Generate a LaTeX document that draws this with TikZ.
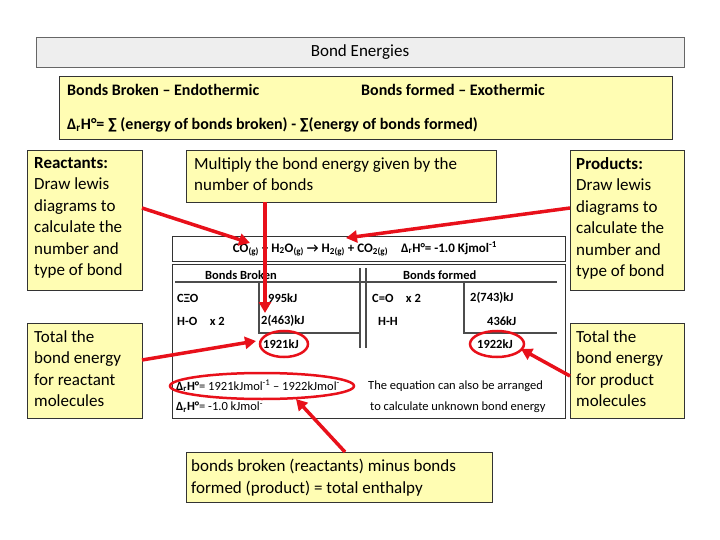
\documentclass[tikz,border=0pt]{standalone}
\usepackage{fontspec}
\setmainfont{Carlito}
\usetikzlibrary{arrows.meta}
\definecolor{ylw}{HTML}{FFFDB3}
\definecolor{gryf}{HTML}{EEEEEE}
\definecolor{rd}{HTML}{E8101A}
\tikzset{
 ybox/.style={draw=black!80,fill=ylw,line width=0.8pt},
 bt/.style={font=\fontsize{17}{21.5}\selectfont,anchor=north west,align=left,inner sep=0pt},
 tt/.style={font=\fontsize{12.5}{14}\selectfont\bfseries,anchor=west,inner sep=0pt},
 nt/.style={font=\fontsize{12.5}{14}\selectfont,anchor=west,inner sep=0pt},
 rarrow/.style={rd,line width=3.5pt,-{Triangle[length=11pt,width=12pt]}},
 rell/.style={rd,line width=2.5pt},
 tl/.style={black!70,line width=1.2pt}
}
\begin{document}
\begin{tikzpicture}[x=1pt,y=-1pt]
\useasboundingbox (0,0) rectangle (720,540);
% title
\draw[fill=gryf,draw=black!60] (36,37) rectangle (684,67);
\node[font=\fontsize{17}{18}\selectfont] (title) at (360,52) {Bond Energies};
% yellow box
\draw[ybox] (59,76) rectangle (672,139);
\node[bt,font=\fontsize{16}{18}\selectfont\bfseries] (bb) at (67,84) {Bonds Broken – Endothermic};
\node[bt,font=\fontsize{16}{18}\selectfont\bfseries] (bf) at (361,84) {Bonds formed – Exothermic};
\node[bt,font=\fontsize{16}{18}\selectfont\bfseries] (eq) at (67,117) {Δ\textsubscript{r}H°= ∑ (energy of bonds broken) - ∑(energy of bonds formed)};
% side boxes
\draw[ybox] (27,150) rectangle (142,290);
\node[bt] (react) at (34,157) {\textbf{Reactants:}\\Draw lewis\\diagrams to\\calculate the\\number and\\type of bond};
\draw[ybox] (27,323) rectangle (142,418);
\node[bt] (totr) at (34,330) {Total the\\bond energy\\for reactant\\molecules};
\draw[ybox] (570,150) rectangle (684,290);
\node[bt] (prod) at (576,157) {\textbf{Products:}\\Draw lewis\\diagrams to\\calculate the\\number and\\type of bond};
\draw[ybox] (570,323) rectangle (684,418);
\node[bt] (totp) at (576,330) {Total the\\bond energy\\for product\\molecules};
\draw[ybox] (186,150) rectangle (496,202);
\node[bt] (mult) at (194,157) {Multiply the bond energy given by the\\number of bonds};
\draw[ybox] (186,452) rectangle (492,502);
\node[bt] (bot) at (191,459) {bonds broken (reactants) minus bonds\\formed (product) = total enthalpy};
% central table
\draw[black!80,line width=1pt] (172,236) rectangle (565,261);
\node[font=\fontsize{13}{14}\selectfont\bfseries] (reac) at (365,249) {CO\textsubscript{(g)} + H\textsubscript{2}O\textsubscript{(g)} → H\textsubscript{2(g)} + CO\textsubscript{2(g)}\quad Δ\textsubscript{r}H°= -1.0 Kjmol\textsuperscript{-1}};
\draw[black!80,line width=1pt] (172,264) rectangle (565,418);
\node[tt] (h1) at (205,275) {Bonds Broken};
\node[tt] (h2) at (403,275) {Bonds formed};
\draw[tl] (175,282) -- (557,282);
\draw[tl] (360,268) -- (360,348);
\draw[tl] (366,268) -- (366,348);
\draw[tl] (259,282) -- (259,333) -- (360,333);
\draw[tl] (464,282) -- (464,333) -- (557,333);
\node[tt] (c1) at (177,298) {CΞO};
\node[tt] (c2) at (268,298) {995kJ};
\node[tt] (c3) at (177,321) {H-O\quad x 2};
\node[tt] (c4) at (261,321) {2(463)kJ};
\node[tt] (c5) at (263,344) {1921kJ};
\node[tt] (d1) at (372,298) {C=O\quad x 2};
\node[tt] (d2) at (470,298) {2(743)kJ};
\node[tt] (d3) at (378,321) {H-H};
\node[tt] (d4) at (487,321) {436kJ};
\node[tt] (d5) at (477,344) {1922kJ};
\node[nt] (e1) at (176,386) {\textbf{Δ\textsubscript{r}H°}= 1921kJmol\textsuperscript{-1} – 1922kJmol\textsuperscript{-}};
\node[nt] (e2) at (176,407) {\textbf{Δ\textsubscript{r}H°}= -1.0 kJmol\textsuperscript{-}};
\node[nt] (e3) at (368,386) {The equation can also be arranged};
\node[nt] (e4) at (370,407) {to calculate unknown bond energy};
% ellipses
\draw[rell] (284,344) ellipse [x radius=24, y radius=13];
\draw[rell] (497,344) ellipse [x radius=27, y radius=13];
\draw[rell] (262,386) ellipse [x radius=92, y radius=13];
\coordinate (t1) at (250,243);
\coordinate (t2) at (265,313);
\coordinate (t3) at (346,238);
\coordinate (t4) at (256,341);
\coordinate (t5) at (521,349);
\coordinate (t6) at (296,399);
\draw[rarrow] (142,208) -- (t1);
\draw[rarrow] (265,202) -- (t2);
\draw[rarrow] (570,208) -- (t3);
\draw[rarrow] (142,360) -- (t4);
\draw[rarrow] (570,376) -- (t5);
\draw[rarrow] (345,452) -- (t6);
\end{tikzpicture}
\end{document}
